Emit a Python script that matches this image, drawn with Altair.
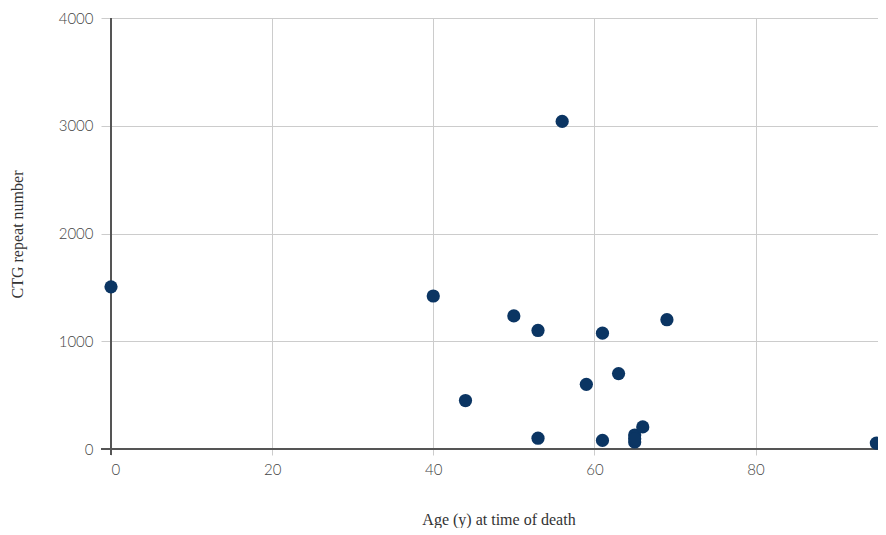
import altair as alt
import pandas as pd

ages = [0, 40, 44, 50, 53, 53, 56, 59, 61, 61, 63, 65, 65, 65, 66, 69, 95]
repeats = [1505, 1420, 450, 1235, 1100, 100, 3040, 600, 1075, 80, 700, 130, 65, 95, 205, 1200, 55]

df = pd.DataFrame({"age": ages, "ctg": repeats})

W, H = 767, 431
XDOM = [0, 95.2]

points = alt.Chart(df).mark_circle(size=175, opacity=1, color="#0b3563", clip=False).encode(
    x=alt.X("age:Q", title="Age (y) at time of death",
            scale=alt.Scale(domain=XDOM, nice=False, zero=False),
            axis=alt.Axis(values=[0, 20, 40, 60, 80], grid=True, gridColor="#cccccc", format="d",
                          domain=False, tickColor="#cccccc", tickSize=6, labelPadding=7,
                          labelFont="Lato", labelFontWeight=300, labelFontSize=15, labelColor="#444444",
                          titleFont="Liberation Serif", titleFontWeight="normal", titleFontSize=16,
                          titleColor="#333333", titleBaseline="middle", titleY=70, titleX=W / 2 + 4)),
    y=alt.Y("ctg:Q", title="CTG repeat number",
            scale=alt.Scale(domain=[0, 4000], nice=False),
            axis=alt.Axis(values=[0, 1000, 2000, 3000, 4000], grid=True, gridColor="#cccccc", format="d",
                          domain=False, tickColor="#cccccc", tickSize=10, labelPadding=8,
                          labelFont="Lato", labelFontWeight=300, labelFontSize=15, labelColor="#444444",
                          titleFont="Liberation Serif", titleFontWeight="normal", titleFontSize=16,
                          titleColor="#333333", titleBaseline="middle", titleX=-94, titleY=216)),
)

yaxis_line = alt.Chart(pd.DataFrame({"x": [0]})).mark_rule(color="#555555", strokeWidth=2).encode(
    x=alt.X("x:Q", scale=alt.Scale(domain=XDOM, nice=False)),
    y=alt.value(0), y2=alt.value(H + 6)
)

zero_line = alt.Chart(pd.DataFrame({"y": [0]})).mark_rule(color="#555555", strokeWidth=2).encode(
    y=alt.Y("y:Q", scale=alt.Scale(domain=[0, 4000], nice=False)),
    x=alt.value(-10), x2=alt.value(W)
)

chart = alt.layer(yaxis_line, zero_line, points).properties(
    width=W, height=H,
    autosize=alt.AutoSizeParams(type="none"),
    padding={"left": 103, "top": 10, "right": 0, "bottom": 79},
).configure_view(stroke=None)

chart.save("out.html", embed_options={"renderer": "svg", "actions": False})
